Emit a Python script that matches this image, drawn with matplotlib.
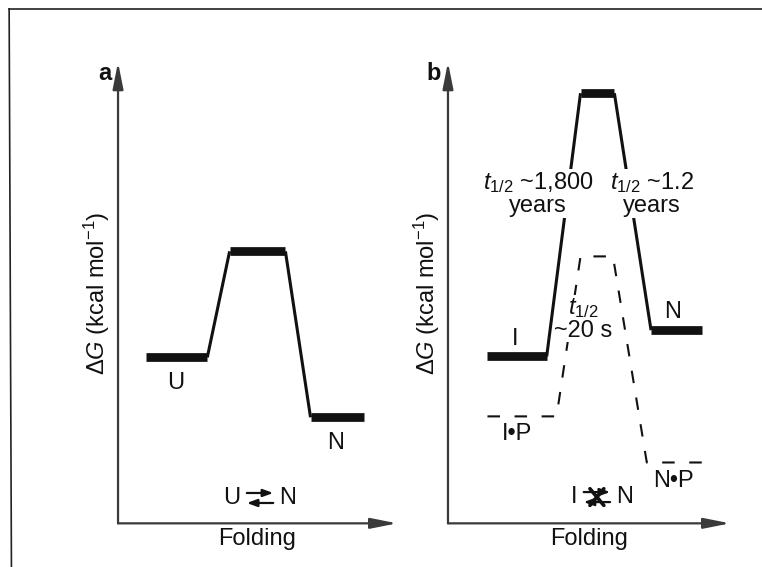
import matplotlib

matplotlib.use("Agg")

import matplotlib.pyplot as plt
from matplotlib.lines import Line2D
from matplotlib.transforms import ScaledTranslation

plt.rcParams["font.family"] = ["Liberation Sans", "DejaVu Sans"]
plt.rcParams["mathtext.fontset"] = "custom"
plt.rcParams["mathtext.rm"] = "Liberation Sans"
plt.rcParams["mathtext.it"] = "Liberation Sans:italic"
plt.rcParams["mathtext.bf"] = "Liberation Sans:bold"

INK = "#111111"
AXIS_INK = "#3a3a3a"
FS = 17

# Free-energy levels along the folding coordinate, arbitrary units (0-10 on both axes).
# a: two-state folding, U -> barrier -> N
a_states = ["U", "TS", "N"]
a_dg = [3.6, 5.9, 2.3]
a_start = [1.0, 4.0, 6.9]
a_end = [3.2, 6.0, 8.8]

# b: intermediate folding on its own (solid) ...
b_states = ["I", "TS", "N"]
b_dg = [3.62, 9.33, 4.19]
b_start = [1.4, 4.7, 7.2]
b_end = [3.5, 5.9, 9.0]

# ... and with the pro-region bound (dashed)
bp_states = ["I•P", "TS", "N•P"]
bp_dg = [2.32, 5.79, 1.32]
bp_start = [1.4, 4.7, 7.05]
bp_end = [3.85, 5.85, 9.0]

half_life_left = r"$t_{1/2}$ ~1,800" + "\nyears"
half_life_right = r"$t_{1/2}$ ~1.2" + "\nyears"
half_life_pro = r"$t_{1/2}$" + "\n~20 s"


def _shifted(ax, dx, dy):
    return ax.transData + ScaledTranslation(dx / 72, dy / 72, ax.figure.dpi_scale_trans)


def _arrow(ax, x, y, p0, p1, style, lw=1.4):
    ax.annotate(
        "",
        xy=(x, y),
        xycoords=_shifted(ax, *p1),
        xytext=(x, y),
        textcoords=_shifted(ax, *p0),
        arrowprops=dict(arrowstyle=style, lw=lw, color=INK, shrinkA=0, shrinkB=0, mutation_scale=10),
    )


def _equilibrium(ax, x, y, left, right, blocked=False):
    ax.text(x, y, left, transform=_shifted(ax, -14, 0), ha="right", va="center", fontsize=FS, color=INK)
    ax.text(x, y, right, transform=_shifted(ax, 14, 0), ha="left", va="center", fontsize=FS, color=INK)
    head = "-|>,head_length=0.6,head_width=0.22"
    _arrow(ax, x, y, (-9.5, 3.6), (9.5, 3.6), head, lw=1.6)
    _arrow(ax, x, y, (9.5, -3.6), (-9.5, -3.6), head, lw=1.6)
    if blocked:
        _arrow(ax, x, y, (-5, 6), (5, -6), "-", lw=2.6)
        _arrow(ax, x, y, (5, 6), (-5, -6), "-", lw=2.6)


def _draw_levels(ax, dg, start, end, zorder):
    for i, g in enumerate(dg):
        ax.plot([start[i], end[i]], [g, g], color=INK, lw=6.3, solid_capstyle="butt", zorder=zorder)
        if i + 1 < len(dg):
            ax.plot([end[i], start[i + 1]], [g, dg[i + 1]], color=INK, lw=2.2,
                    solid_capstyle="butt", zorder=zorder)


def _draw_dashed(ax, dg, start, end, zorder):
    xs, ys = [], []
    for g, x0, x1 in zip(dg, start, end):
        xs += [x0, x1]
        ys += [g, g]
    ax.plot(xs, ys, color=INK, lw=1.5, ls=(0, (6, 7)), zorder=zorder)


def _setup_axes(ax, tag):
    ax.set_xlim(0, 10)
    ax.set_ylim(0, 10)
    for spine in ax.spines.values():
        spine.set_visible(False)
    ax.set_xticks([])
    ax.set_yticks([])
    ax.patch.set_alpha(0)
    arrow = dict(arrowstyle="-|>,head_length=1.6,head_width=0.32", color=AXIS_INK, lw=1.6,
                 shrinkA=0, shrinkB=0, mutation_scale=10)
    ax.annotate("", xy=(1, 0), xytext=(0, 0), xycoords="axes fraction", arrowprops=arrow)
    ax.annotate("", xy=(0, 1), xytext=(0, 0), xycoords="axes fraction", arrowprops=arrow)
    ax.set_xlabel("Folding", fontsize=FS, color=INK, labelpad=3)
    ax.set_ylabel(r"$\Delta G$ (kcal mol$^{-1}$)", fontsize=FS, color=INK, labelpad=4)
    ax.annotate(tag, xy=(0, 1), xycoords="axes fraction", xytext=(-5, 0), textcoords="offset points",
                ha="right", va="top", fontsize=FS, fontweight="bold", color=INK)


fig = plt.figure(figsize=(7.62, 5.67), dpi=100)
fig.patch.set_facecolor("white")

# thin frame along the top and left edges
fig.add_artist(Line2D([0.012, 1.0], [0.984, 0.984], color="#222222", lw=1.2))
fig.add_artist(Line2D([0.015, 0.012], [0.0, 0.984], color="#222222", lw=1.2))

ax_a = fig.add_axes([0.1549, 0.077, 0.3661, 0.8131])
ax_b = fig.add_axes([0.5879, 0.077, 0.3701, 0.8131])

# panel a
_setup_axes(ax_a, "a")
_draw_levels(ax_a, a_dg, a_start, a_end, zorder=3)
ax_a.text((a_start[0] + a_end[0]) / 2 - 0.05, a_dg[0] - 0.55, a_states[0], ha="center", va="center",
          fontsize=FS, color=INK)
ax_a.text((a_start[2] + a_end[2]) / 2 - 0.05, a_dg[2] - 0.55, a_states[2], ha="center", va="center",
          fontsize=FS, color=INK)
_equilibrium(ax_a, 5.09, 0.55, "U", "N")

# panel b
_setup_axes(ax_b, "b")
_draw_dashed(ax_b, bp_dg, bp_start, bp_end, zorder=2)
_draw_levels(ax_b, b_dg, b_start, b_end, zorder=4)
ax_b.text(2.38, b_dg[0] + 0.37, b_states[0], ha="center", va="center", fontsize=FS, color=INK)
ax_b.text(7.98, b_dg[2] + 0.39, b_states[2], ha="center", va="center", fontsize=FS, color=INK)
ax_b.text(2.45, bp_dg[0] - 0.39, bp_states[0], ha="center", va="center", fontsize=FS, color=INK)
ax_b.text(7.98, bp_dg[2] - 0.41, bp_states[2], ha="center", va="center", fontsize=FS, color=INK)

box = dict(facecolor="white", edgecolor="none", pad=0.5)
ax_b.text(3.19, 7.15, half_life_left, ha="center", va="center", fontsize=FS, color=INK,
          linespacing=1.0, bbox=box, zorder=5)
ax_b.text(7.23, 7.15, half_life_right, ha="center", va="center", fontsize=FS, color=INK,
          linespacing=1.0, bbox=box, zorder=5)
ax_b.text(4.79, 4.43, half_life_pro, ha="center", va="center", fontsize=FS, color=INK,
          linespacing=1.0, bbox=dict(facecolor="white", edgecolor="none", pad=0.1), zorder=3)
_equilibrium(ax_b, 5.28, 0.57, "I", "N", blocked=True)

fig.savefig("out.png", dpi=100, facecolor="white")
